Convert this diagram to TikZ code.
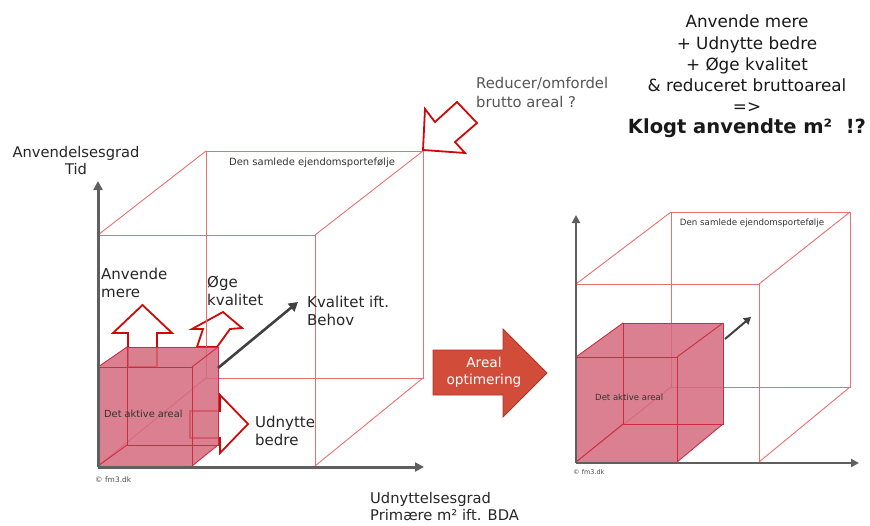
\documentclass[tikz,border=0pt]{standalone}
\usepackage{fontspec}
\setmainfont{DejaVu Sans}
\usetikzlibrary{arrows.meta}
\definecolor{cubeln}{RGB}{232,112,112}
\definecolor{actfill}{RGB}{211,106,124}
\definecolor{actln}{RGB}{205,45,65}
\definecolor{arrred}{RGB}{204,10,10}
\definecolor{axisgray}{RGB}{95,95,95}
\definecolor{bigarr}{RGB}{210,76,58}
\definecolor{bigarrdk}{RGB}{170,55,40}
\definecolor{txtgray}{RGB}{85,85,85}
\begin{document}
\begin{tikzpicture}[x=1pt,y=-1pt,
  cubeedge/.style={draw=cubeln, line width=0.9pt},
  actedge/.style={draw=actln, line width=0.9pt},
  actbody/.style={fill=actfill, fill opacity=0.85},
  blockarrow/.style={draw=arrred, line width=1.8pt, fill=white, line join=miter},
  axisline/.style={draw=axisgray, line width=3pt, -{Triangle[length=9pt,width=9pt]}},
  darkarrow/.style={draw=black!75, line width=2.6pt, -{Triangle[length=9pt,width=10pt]}},
  lbl/.style={font=\fontsize{15}{18}\selectfont, text=black!85, align=left, inner sep=0pt, anchor=west},
  smalllbl/.style={font=\fontsize{10}{12}\selectfont, text=black!80, inner sep=0pt},
  tinylbl/.style={font=\fontsize{7.5}{9}\selectfont, text=black!70, inner sep=0pt, anchor=west}]
\path[use as bounding box] (0,0) rectangle (870,525);

% ---------------- LEFT DIAGRAM ----------------
% big cube corners
\coordinate (LFtl) at (98,235);  \coordinate (LFtr) at (315,235);
\coordinate (LFbl) at (98,466);  \coordinate (LFbr) at (315,466);
\coordinate (LBtl) at (206,151); \coordinate (LBtr) at (423,151);
\coordinate (LBbl) at (206,378); \coordinate (LBbr) at (423,378);

% block arrows (behind)
\draw[blockarrow] (128,367) -- (128,333) -- (113,333) -- (142.5,305) -- (172,333) -- (157,333) -- (157,367) -- cycle;
\draw[blockarrow] (197,347) -- (203,329) -- (192,329) -- (223,312) -- (242,328) -- (230,329) -- (217,347) -- cycle;
\draw[blockarrow] (190,411) -- (220,411) -- (220,395) -- (248,424) -- (220,453) -- (220,438) -- (190,438) -- cycle;

\draw[cubeedge] (LFtl) -- (LFtr) -- (LFbr) -- (LFbl) -- cycle;
\draw[cubeedge] (LBtl) -- (LBtr) -- (LBbr) -- (LBbl) -- cycle;
\draw[cubeedge] (LFtl) -- (LBtl) (LFtr) -- (LBtr) (LFbr) -- (LBbr) (LFbl) -- (LBbl);

% active cube
\coordinate (LAFtl) at (98,367);  \coordinate (LAFtr) at (192,367);
\coordinate (LAFbl) at (98,466);  \coordinate (LAFbr) at (192,466);
\coordinate (LABtl) at (127,347); \coordinate (LABtr) at (218,347);
\coordinate (LABbl) at (127,445); \coordinate (LABbr) at (218,445);
\fill[actbody] (LAFbl) -- (LAFtl) -- (LABtl) -- (LABtr) -- (LABbr) -- (LAFbr) -- cycle;
\draw[actedge] (LAFtl) -- (LAFtr) -- (LAFbr) -- (LAFbl) -- cycle;
\draw[actedge] (LABtl) -- (LABtr) -- (LABbr) -- (LABbl) -- cycle;
\draw[actedge] (LAFtl) -- (LABtl) (LAFtr) -- (LABtr) (LAFbr) -- (LABbr) (LAFbl) -- (LABbl);

% axes
\coordinate (LO) at (98,467);
\coordinate (LYend) at (98,181);
\coordinate (LXend) at (424,467);
\draw[axisline] (LO) -- (LYend);
\draw[axisline] (LO) -- (LXend);

% quality arrow
\coordinate (LQs) at (218,368);
\coordinate (LQe) at (298,302);
\draw[darkarrow] (LQs) -- (LQe);

% reduce arrow
\draw[blockarrow] (423,150) -- (425,109) -- (435,122) -- (457,102) -- (477,123) -- (455,142) -- (465,153) -- cycle;

% labels
\node[font=\fontsize{14.7}{17}\selectfont, text=black!85, align=center, inner sep=0pt] (ylab) at (76,161) {Anvendelsesgrad\\Tid};
\node[lbl, font=\fontsize{14.7}{17}\selectfont] (xlab) at (370,507) {Udnyttelsesgrad\\Primære m² ift. BDA};
\node[smalllbl] (Lport) at (312,163) {Den samlede ejendomsportefølje};
\node[lbl] (anv) at (101,283) {Anvende\\mere};
\node[lbl] (oge) at (207,290.5) {Øge\\kvalitet};
\node[lbl] (kval) at (307,311) {Kvalitet ift.\\Behov};
\node[smalllbl, anchor=west, font=\fontsize{9.8}{11}\selectfont] (Lakt) at (104,414) {Det aktive areal};
\node[lbl] (udn) at (255,430.5) {Udnytte\\bedre};
\node[tinylbl] (Lcopy) at (95,480) {© fm3.dk};
\node[font=\fontsize{14.8}{19}\selectfont, text=txtgray, align=left, inner sep=0pt, anchor=west] (red) at (476,92) {Reducer/omfordel\\brutto areal ?};

% ---------------- MIDDLE ARROW ----------------
\draw[fill=bigarr, draw=bigarrdk, line width=0.8pt, line join=miter] (433,350) -- (503,350) -- (503,329) -- (547,373) -- (503,417) -- (503,395) -- (433,395) -- cycle;
\node[font=\fontsize{13.7}{16.5}\selectfont, text=white, align=center, inner sep=0pt] (opt) at (484,372) {Areal\\optimering};

% ---------------- RIGHT DIAGRAM ----------------
\coordinate (RFtl) at (576,284);  \coordinate (RFtr) at (759,284);
\coordinate (RFbl) at (576,462);  \coordinate (RFbr) at (759,462);
\coordinate (RBtl) at (671,212);  \coordinate (RBtr) at (850,212);
\coordinate (RBbl) at (671,387);  \coordinate (RBbr) at (850,387);
\draw[cubeedge] (RFtl) -- (RFtr) -- (RFbr) -- (RFbl) -- cycle;
\draw[cubeedge] (RBtl) -- (RBtr) -- (RBbr) -- (RBbl) -- cycle;
\draw[cubeedge] (RFtl) -- (RBtl) (RFtr) -- (RBtr) (RFbr) -- (RBbr) (RFbl) -- (RBbl);

\coordinate (RAFtl) at (576,357);  \coordinate (RAFtr) at (677,357);
\coordinate (RAFbl) at (576,462);  \coordinate (RAFbr) at (677,462);
\coordinate (RABtl) at (623,323);  \coordinate (RABtr) at (723,323);
\coordinate (RABbl) at (623,424);  \coordinate (RABbr) at (723,424);
\fill[actbody] (RAFbl) -- (RAFtl) -- (RABtl) -- (RABtr) -- (RABbr) -- (RAFbr) -- cycle;
\draw[actedge] (RAFtl) -- (RAFtr) -- (RAFbr) -- (RAFbl) -- cycle;
\draw[actedge] (RABtl) -- (RABtr) -- (RABbr) -- (RABbl) -- cycle;
\draw[actedge] (RAFtl) -- (RABtl) (RAFtr) -- (RABtr) (RAFbr) -- (RABbr) (RAFbl) -- (RABbl);

\coordinate (RO) at (576,463);
\coordinate (RYend) at (576,215);
\coordinate (RXend) at (859,463);
\draw[axisline, line width=2.4pt, -{Triangle[length=8pt,width=8pt]}] (RO) -- (RYend);
\draw[axisline, line width=2.4pt, -{Triangle[length=8pt,width=8pt]}] (RO) -- (RXend);

\coordinate (RQs) at (725,339);
\coordinate (RQe) at (751,317);
\draw[darkarrow, line width=2pt, -{Triangle[length=7pt,width=8pt]}] (RQs) -- (RQe);

\node[smalllbl, font=\fontsize{8.7}{10}\selectfont] (Rport) at (752,223) {Den samlede ejendomsportefølje};
\node[smalllbl, anchor=west, font=\fontsize{8.5}{10}\selectfont] (Rakt) at (595,397) {Det aktive areal};
\node[tinylbl, font=\fontsize{6.5}{8}\selectfont] (Rcopy) at (573,472) {© fm3.dk};

% ---------------- SUMMARY TEXT ----------------
\node[font=\fontsize{16.8}{21.2}\selectfont, text=black!90, align=center, inner sep=0pt, anchor=north] (summary) at (747,15)
  {Anvende mere\\+ Udnytte bedre\\+ Øge kvalitet\\\& reduceret bruttoareal\\=>\\{\fontsize{19.5}{22}\selectfont\bfseries Klogt anvendte m²\ \ !?}};
\end{tikzpicture}
\end{document}
